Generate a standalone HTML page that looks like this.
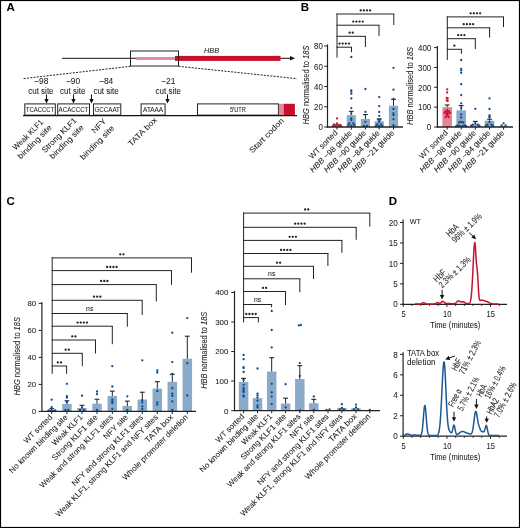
<!DOCTYPE html>
<html><head><meta charset="utf-8"><style>
html,body{margin:0;padding:0;background:#fff;}
body{width:520px;height:528px;overflow:hidden;}
svg{display:block;font-family:"Liberation Sans", sans-serif;will-change:transform;}
text{stroke:#222;stroke-width:0.06px;}
</style></head><body>
<svg width="520" height="528" viewBox="0 0 520 528">
<rect x="0" y="0" width="520" height="528" fill="#fff"/>
<text x="6.60" y="11.20" font-size="11.5" text-anchor="start" fill="#000" font-weight="bold" >A</text>
<text x="300.80" y="10.90" font-size="11.5" text-anchor="start" fill="#000" font-weight="bold" >B</text>
<text x="6.60" y="205.20" font-size="11.5" text-anchor="start" fill="#000" font-weight="bold" >C</text>
<text x="388.80" y="204.50" font-size="11.5" text-anchor="start" fill="#000" font-weight="bold" >D</text>
<line x1="62.00" y1="58.30" x2="291.00" y2="58.30" stroke="#111" stroke-width="1" />
<polygon points="290,56 295,58.3 290,60.6" fill="#111"/>
<rect x="136.00" y="57.00" width="40.00" height="3.00" fill="#e48a9b" stroke="none" stroke-width="1" />
<rect x="175.00" y="55.90" width="105.50" height="5.00" fill="#c8102e" stroke="none" stroke-width="1" />
<rect x="130.50" y="51.00" width="48.00" height="15.00" fill="none" stroke="#222" stroke-width="1" />
<text x="211.50" y="53.20" font-size="7.5" text-anchor="middle" fill="#222" font-style="italic" textLength="15.00" lengthAdjust="spacingAndGlyphs" >HBB</text>
<line x1="130.50" y1="66.30" x2="22.50" y2="78.70" stroke="#222" stroke-width="1" stroke-dasharray="2,1.3"/>
<line x1="178.50" y1="66.30" x2="297.00" y2="78.70" stroke="#222" stroke-width="1" stroke-dasharray="2,1.3"/>
<text x="41.20" y="84.00" font-size="8.7" text-anchor="middle" fill="#222" textLength="14.20" lengthAdjust="spacingAndGlyphs" >−98</text>
<text x="40.90" y="94.00" font-size="8.4" text-anchor="middle" fill="#222" textLength="25.30" lengthAdjust="spacingAndGlyphs" >cut site</text>
<line x1="46.50" y1="94.40" x2="46.50" y2="99.40" stroke="#111" stroke-width="1" />
<polygon points="44.30,98.90 48.70,98.90 46.50,103.50" fill="#111"/>
<text x="73.00" y="84.00" font-size="8.7" text-anchor="middle" fill="#222" textLength="14.20" lengthAdjust="spacingAndGlyphs" >−90</text>
<text x="72.70" y="94.00" font-size="8.4" text-anchor="middle" fill="#222" textLength="25.30" lengthAdjust="spacingAndGlyphs" >cut site</text>
<line x1="73.50" y1="94.40" x2="73.50" y2="99.40" stroke="#111" stroke-width="1" />
<polygon points="71.30,98.90 75.70,98.90 73.50,103.50" fill="#111"/>
<text x="106.10" y="84.00" font-size="8.7" text-anchor="middle" fill="#222" textLength="14.20" lengthAdjust="spacingAndGlyphs" >−84</text>
<text x="106.10" y="94.00" font-size="8.4" text-anchor="middle" fill="#222" textLength="25.30" lengthAdjust="spacingAndGlyphs" >cut site</text>
<line x1="91.50" y1="94.40" x2="91.50" y2="99.40" stroke="#111" stroke-width="1" />
<polygon points="89.30,98.90 93.70,98.90 91.50,103.50" fill="#111"/>
<text x="168.20" y="84.00" font-size="8.7" text-anchor="middle" fill="#222" textLength="14.20" lengthAdjust="spacingAndGlyphs" >−21</text>
<text x="168.20" y="94.00" font-size="8.4" text-anchor="middle" fill="#222" textLength="25.30" lengthAdjust="spacingAndGlyphs" >cut site</text>
<line x1="167.50" y1="94.40" x2="167.50" y2="99.40" stroke="#111" stroke-width="1" />
<polygon points="165.30,98.90 169.70,98.90 167.50,103.50" fill="#111"/>
<rect x="24.80" y="103.90" width="30.50" height="11.20" fill="#fff" stroke="#222" stroke-width="1" />
<text x="40.05" y="112.30" font-size="7" text-anchor="middle" fill="#222" textLength="28.50" lengthAdjust="spacingAndGlyphs" >TCACCCT</text>
<rect x="57.70" y="103.90" width="31.80" height="11.20" fill="#fff" stroke="#222" stroke-width="1" />
<text x="73.60" y="112.30" font-size="7" text-anchor="middle" fill="#222" textLength="30.00" lengthAdjust="spacingAndGlyphs" >ACACCCT</text>
<rect x="93.50" y="103.90" width="27.30" height="11.20" fill="#fff" stroke="#222" stroke-width="1" />
<text x="107.15" y="112.30" font-size="7" text-anchor="middle" fill="#222" textLength="25.50" lengthAdjust="spacingAndGlyphs" >GCCAAT</text>
<rect x="141.10" y="103.90" width="24.00" height="11.20" fill="#fff" stroke="#222" stroke-width="1" />
<text x="153.10" y="112.30" font-size="7" text-anchor="middle" fill="#222" textLength="20.00" lengthAdjust="spacingAndGlyphs" >ATAAA</text>
<rect x="197.50" y="103.90" width="80.90" height="11.20" fill="#fff" stroke="#222" stroke-width="1" />
<text x="237.95" y="112.00" font-size="7" text-anchor="middle" fill="#222" textLength="16.00" lengthAdjust="spacingAndGlyphs" >5′UTR</text>
<rect x="278.90" y="103.80" width="5.00" height="11.60" fill="#e48a9b" stroke="none" stroke-width="1" />
<rect x="283.80" y="103.80" width="11.10" height="11.60" fill="#c8102e" stroke="none" stroke-width="1" />
<line x1="23.00" y1="115.70" x2="297.00" y2="115.70" stroke="#111" stroke-width="1.2" />
<text x="29.84" y="136.64" font-size="8" text-anchor="middle" fill="#222" textLength="39.50" lengthAdjust="spacingAndGlyphs" transform="rotate(-45 29.84 136.64)" >Weak KLF1</text>
<text x="36.54" y="143.84" font-size="8" text-anchor="middle" fill="#222" textLength="44.50" lengthAdjust="spacingAndGlyphs" transform="rotate(-45 36.54 143.84)" >binding site</text>
<text x="61.04" y="137.14" font-size="8" text-anchor="middle" fill="#222" textLength="45.50" lengthAdjust="spacingAndGlyphs" transform="rotate(-45 61.04 137.14)" >Strong KLF1</text>
<text x="68.54" y="143.84" font-size="8" text-anchor="middle" fill="#222" textLength="44.50" lengthAdjust="spacingAndGlyphs" transform="rotate(-45 68.54 143.84)" >binding site</text>
<text x="100.74" y="127.74" font-size="8" text-anchor="middle" fill="#222" textLength="17.00" lengthAdjust="spacingAndGlyphs" transform="rotate(-45 100.74 127.74)" >NFY</text>
<text x="98.94" y="144.64" font-size="8" text-anchor="middle" fill="#222" textLength="44.50" lengthAdjust="spacingAndGlyphs" transform="rotate(-45 98.94 144.64)" >binding site</text>
<text x="144.24" y="133.74" font-size="8" text-anchor="middle" fill="#222" textLength="37.00" lengthAdjust="spacingAndGlyphs" transform="rotate(-45 144.24 133.74)" >TATA box</text>
<text x="268.54" y="137.44" font-size="8" text-anchor="middle" fill="#222" textLength="45.50" lengthAdjust="spacingAndGlyphs" transform="rotate(-45 268.54 137.44)" >Start codon</text>
<rect x="332.40" y="125.78" width="9.20" height="1.21" fill="#e38797" stroke="none" stroke-width="1" />
<rect x="346.70" y="115.15" width="9.20" height="11.85" fill="#8aaaca" stroke="none" stroke-width="1" />
<rect x="360.80" y="118.90" width="9.20" height="8.10" fill="#8aaaca" stroke="none" stroke-width="1" />
<rect x="374.60" y="121.23" width="9.20" height="5.77" fill="#8aaaca" stroke="none" stroke-width="1" />
<rect x="388.90" y="105.74" width="9.20" height="21.26" fill="#8aaaca" stroke="none" stroke-width="1" />
<line x1="337.00" y1="125.78" x2="337.00" y2="124.97" stroke="#222" stroke-width="1" />
<line x1="334.60" y1="124.97" x2="339.40" y2="124.97" stroke="#222" stroke-width="1.1" />
<line x1="351.30" y1="115.15" x2="351.30" y2="111.31" stroke="#222" stroke-width="1" />
<line x1="348.90" y1="111.31" x2="353.70" y2="111.31" stroke="#222" stroke-width="1.1" />
<line x1="365.40" y1="118.90" x2="365.40" y2="114.55" stroke="#222" stroke-width="1" />
<line x1="363.00" y1="114.55" x2="367.80" y2="114.55" stroke="#222" stroke-width="1.1" />
<line x1="379.20" y1="121.23" x2="379.20" y2="118.90" stroke="#222" stroke-width="1" />
<line x1="376.80" y1="118.90" x2="381.60" y2="118.90" stroke="#222" stroke-width="1.1" />
<line x1="393.50" y1="105.74" x2="393.50" y2="99.36" stroke="#222" stroke-width="1" />
<line x1="391.10" y1="99.36" x2="395.90" y2="99.36" stroke="#222" stroke-width="1.1" />
<circle cx="337.00" cy="118.40" r="1.15" fill="#cc1030"/>
<circle cx="334.00" cy="124.50" r="1.15" fill="#cc1030"/>
<circle cx="335.50" cy="125.60" r="1.15" fill="#cc1030"/>
<circle cx="338.50" cy="125.60" r="1.15" fill="#cc1030"/>
<circle cx="340.00" cy="124.80" r="1.15" fill="#cc1030"/>
<circle cx="337.00" cy="123.50" r="1.15" fill="#cc1030"/>
<circle cx="333.00" cy="125.90" r="1.15" fill="#cc1030"/>
<circle cx="341.00" cy="125.90" r="1.15" fill="#cc1030"/>
<circle cx="351.30" cy="57.00" r="1.15" fill="#0e4a8e"/>
<circle cx="351.30" cy="90.30" r="1.15" fill="#0e4a8e"/>
<circle cx="351.30" cy="91.60" r="1.15" fill="#0e4a8e"/>
<circle cx="351.30" cy="93.70" r="1.15" fill="#0e4a8e"/>
<circle cx="351.30" cy="98.40" r="1.15" fill="#0e4a8e"/>
<circle cx="351.30" cy="108.10" r="1.15" fill="#0e4a8e"/>
<circle cx="351.30" cy="113.30" r="1.15" fill="#0e4a8e"/>
<circle cx="351.30" cy="118.40" r="1.15" fill="#0e4a8e"/>
<circle cx="351.30" cy="120.00" r="1.15" fill="#0e4a8e"/>
<circle cx="349.30" cy="123.50" r="1.15" fill="#0e4a8e"/>
<circle cx="353.30" cy="123.50" r="1.15" fill="#0e4a8e"/>
<circle cx="348.30" cy="125.20" r="1.15" fill="#0e4a8e"/>
<circle cx="354.30" cy="125.20" r="1.15" fill="#0e4a8e"/>
<circle cx="351.30" cy="125.80" r="1.15" fill="#0e4a8e"/>
<circle cx="365.40" cy="89.00" r="1.15" fill="#0e4a8e"/>
<circle cx="365.40" cy="111.90" r="1.15" fill="#0e4a8e"/>
<circle cx="365.40" cy="121.80" r="1.15" fill="#0e4a8e"/>
<circle cx="363.90" cy="126.00" r="1.15" fill="#0e4a8e"/>
<circle cx="366.90" cy="126.00" r="1.15" fill="#0e4a8e"/>
<circle cx="379.20" cy="97.10" r="1.15" fill="#0e4a8e"/>
<circle cx="379.20" cy="106.10" r="1.15" fill="#0e4a8e"/>
<circle cx="379.20" cy="111.90" r="1.15" fill="#0e4a8e"/>
<circle cx="379.20" cy="115.80" r="1.15" fill="#0e4a8e"/>
<circle cx="378.20" cy="119.70" r="1.15" fill="#0e4a8e"/>
<circle cx="380.20" cy="119.70" r="1.15" fill="#0e4a8e"/>
<circle cx="379.20" cy="121.80" r="1.15" fill="#0e4a8e"/>
<circle cx="377.20" cy="124.30" r="1.15" fill="#0e4a8e"/>
<circle cx="381.20" cy="124.30" r="1.15" fill="#0e4a8e"/>
<circle cx="376.20" cy="126.00" r="1.15" fill="#0e4a8e"/>
<circle cx="382.20" cy="126.00" r="1.15" fill="#0e4a8e"/>
<circle cx="379.20" cy="126.00" r="1.15" fill="#0e4a8e"/>
<circle cx="393.50" cy="67.80" r="1.15" fill="#0e4a8e"/>
<circle cx="393.50" cy="89.70" r="1.15" fill="#0e4a8e"/>
<circle cx="393.50" cy="98.80" r="1.15" fill="#0e4a8e"/>
<circle cx="393.50" cy="109.00" r="1.15" fill="#0e4a8e"/>
<circle cx="393.50" cy="113.30" r="1.15" fill="#0e4a8e"/>
<circle cx="393.50" cy="115.00" r="1.15" fill="#0e4a8e"/>
<circle cx="393.50" cy="119.20" r="1.15" fill="#0e4a8e"/>
<circle cx="393.50" cy="125.20" r="1.15" fill="#0e4a8e"/>
<line x1="327.50" y1="44.50" x2="327.50" y2="127.60" stroke="#222" stroke-width="1.2" />
<line x1="326.90" y1="127.00" x2="403.00" y2="127.00" stroke="#222" stroke-width="1.3" />
<line x1="324.20" y1="127.00" x2="327.50" y2="127.00" stroke="#222" stroke-width="1" />
<text x="322.80" y="130.29" font-size="9.2" text-anchor="end" fill="#222" textLength="4.40" lengthAdjust="spacingAndGlyphs" >0</text>
<line x1="324.20" y1="106.75" x2="327.50" y2="106.75" stroke="#222" stroke-width="1" />
<text x="322.80" y="110.04" font-size="9.2" text-anchor="end" fill="#222" textLength="8.80" lengthAdjust="spacingAndGlyphs" >20</text>
<line x1="324.20" y1="86.50" x2="327.50" y2="86.50" stroke="#222" stroke-width="1" />
<text x="322.80" y="89.79" font-size="9.2" text-anchor="end" fill="#222" textLength="8.80" lengthAdjust="spacingAndGlyphs" >40</text>
<line x1="324.20" y1="66.25" x2="327.50" y2="66.25" stroke="#222" stroke-width="1" />
<text x="322.80" y="69.54" font-size="9.2" text-anchor="end" fill="#222" textLength="8.80" lengthAdjust="spacingAndGlyphs" >60</text>
<line x1="324.20" y1="46.00" x2="327.50" y2="46.00" stroke="#222" stroke-width="1" />
<text x="322.80" y="49.29" font-size="9.2" text-anchor="end" fill="#222" textLength="8.80" lengthAdjust="spacingAndGlyphs" >80</text>
<line x1="337.00" y1="127.00" x2="337.00" y2="129.60" stroke="#222" stroke-width="1" />
<line x1="351.30" y1="127.00" x2="351.30" y2="129.60" stroke="#222" stroke-width="1" />
<line x1="365.40" y1="127.00" x2="365.40" y2="129.60" stroke="#222" stroke-width="1" />
<line x1="379.20" y1="127.00" x2="379.20" y2="129.60" stroke="#222" stroke-width="1" />
<line x1="393.50" y1="127.00" x2="393.50" y2="129.60" stroke="#222" stroke-width="1" />
<line x1="336.50" y1="14.00" x2="394.30" y2="14.00" stroke="#222" stroke-width="1" />
<line x1="393.80" y1="14.00" x2="393.80" y2="25.00" stroke="#222" stroke-width="1" />
<circle cx="360.67" cy="10.40" r="1.15" fill="#222"/>
<circle cx="363.82" cy="10.40" r="1.15" fill="#222"/>
<circle cx="366.97" cy="10.40" r="1.15" fill="#222"/>
<circle cx="370.12" cy="10.40" r="1.15" fill="#222"/>
<line x1="336.50" y1="25.20" x2="379.50" y2="25.20" stroke="#222" stroke-width="1" />
<line x1="379.00" y1="25.20" x2="379.00" y2="36.00" stroke="#222" stroke-width="1" />
<circle cx="353.27" cy="21.60" r="1.15" fill="#222"/>
<circle cx="356.42" cy="21.60" r="1.15" fill="#222"/>
<circle cx="359.57" cy="21.60" r="1.15" fill="#222"/>
<circle cx="362.72" cy="21.60" r="1.15" fill="#222"/>
<line x1="336.50" y1="36.30" x2="365.90" y2="36.30" stroke="#222" stroke-width="1" />
<line x1="365.40" y1="36.30" x2="365.40" y2="47.00" stroke="#222" stroke-width="1" />
<circle cx="349.62" cy="32.70" r="1.15" fill="#222"/>
<circle cx="352.77" cy="32.70" r="1.15" fill="#222"/>
<line x1="336.50" y1="47.20" x2="352.00" y2="47.20" stroke="#222" stroke-width="1" />
<line x1="351.50" y1="47.20" x2="351.50" y2="52.20" stroke="#222" stroke-width="1" />
<circle cx="339.52" cy="43.60" r="1.15" fill="#222"/>
<circle cx="342.67" cy="43.60" r="1.15" fill="#222"/>
<circle cx="345.82" cy="43.60" r="1.15" fill="#222"/>
<circle cx="348.97" cy="43.60" r="1.15" fill="#222"/>
<line x1="337.00" y1="13.50" x2="337.00" y2="57.70" stroke="#222" stroke-width="1" />
<text x="338.20" y="133.40" font-size="8" text-anchor="end" fill="#222" transform="rotate(-45 338.20 133.40)" textLength="37.00" lengthAdjust="spacingAndGlyphs">WT sorted</text>
<text x="352.50" y="133.40" font-size="8" text-anchor="end" fill="#222" transform="rotate(-45 352.50 133.40)" textLength="56.00" lengthAdjust="spacingAndGlyphs"><tspan font-style="italic">HBB</tspan> −98 guide</text>
<text x="366.60" y="133.40" font-size="8" text-anchor="end" fill="#222" transform="rotate(-45 366.60 133.40)" textLength="56.00" lengthAdjust="spacingAndGlyphs"><tspan font-style="italic">HBB</tspan> −90 guide</text>
<text x="380.40" y="133.40" font-size="8" text-anchor="end" fill="#222" transform="rotate(-45 380.40 133.40)" textLength="56.00" lengthAdjust="spacingAndGlyphs"><tspan font-style="italic">HBB</tspan> −84 guide</text>
<text x="394.70" y="133.40" font-size="8" text-anchor="end" fill="#222" transform="rotate(-45 394.70 133.40)" textLength="56.00" lengthAdjust="spacingAndGlyphs"><tspan font-style="italic">HBB</tspan> −21 guide</text>
<text x="308.60" y="85.00" font-size="8.8" text-anchor="middle" fill="#222" transform="rotate(-90 308.60 85.00)" textLength="78.80" lengthAdjust="spacingAndGlyphs"><tspan font-style="italic">HBG</tspan> normalised to <tspan font-style="italic">18S</tspan></text>
<rect x="442.40" y="107.15" width="9.60" height="19.85" fill="#e38797" stroke="none" stroke-width="1" />
<rect x="456.40" y="110.33" width="9.60" height="16.67" fill="#8aaaca" stroke="none" stroke-width="1" />
<rect x="470.50" y="124.62" width="9.60" height="2.38" fill="#8aaaca" stroke="none" stroke-width="1" />
<rect x="484.70" y="120.65" width="9.60" height="6.35" fill="#8aaaca" stroke="none" stroke-width="1" />
<rect x="498.80" y="126.21" width="9.60" height="0.79" fill="#8aaaca" stroke="none" stroke-width="1" />
<line x1="447.20" y1="107.15" x2="447.20" y2="104.97" stroke="#222" stroke-width="1" />
<line x1="444.80" y1="104.97" x2="449.60" y2="104.97" stroke="#222" stroke-width="1.1" />
<line x1="461.20" y1="110.33" x2="461.20" y2="105.56" stroke="#222" stroke-width="1" />
<line x1="458.80" y1="105.56" x2="463.60" y2="105.56" stroke="#222" stroke-width="1.1" />
<line x1="475.30" y1="124.62" x2="475.30" y2="121.44" stroke="#222" stroke-width="1" />
<line x1="472.90" y1="121.44" x2="477.70" y2="121.44" stroke="#222" stroke-width="1.1" />
<line x1="489.50" y1="120.65" x2="489.50" y2="119.26" stroke="#222" stroke-width="1" />
<line x1="487.10" y1="119.26" x2="491.90" y2="119.26" stroke="#222" stroke-width="1.1" />
<circle cx="447.20" cy="89.30" r="1.15" fill="#cc1030"/>
<circle cx="447.20" cy="92.50" r="1.15" fill="#cc1030"/>
<circle cx="446.70" cy="97.80" r="1.15" fill="#cc1030"/>
<circle cx="447.70" cy="98.40" r="1.15" fill="#cc1030"/>
<circle cx="446.70" cy="100.30" r="1.15" fill="#cc1030"/>
<circle cx="447.70" cy="101.00" r="1.15" fill="#cc1030"/>
<circle cx="447.20" cy="109.80" r="1.15" fill="#cc1030"/>
<circle cx="445.40" cy="111.50" r="1.15" fill="#cc1030"/>
<circle cx="449.00" cy="111.50" r="1.15" fill="#cc1030"/>
<circle cx="444.40" cy="112.80" r="1.15" fill="#cc1030"/>
<circle cx="450.00" cy="112.80" r="1.15" fill="#cc1030"/>
<circle cx="447.20" cy="112.00" r="1.15" fill="#cc1030"/>
<circle cx="447.20" cy="115.50" r="1.15" fill="#cc1030"/>
<circle cx="445.70" cy="117.00" r="1.15" fill="#cc1030"/>
<circle cx="448.70" cy="117.00" r="1.15" fill="#cc1030"/>
<circle cx="446.50" cy="114.00" r="1.15" fill="#cc1030"/>
<circle cx="447.90" cy="114.00" r="1.15" fill="#cc1030"/>
<circle cx="461.20" cy="60.00" r="1.15" fill="#0e4a8e"/>
<circle cx="461.20" cy="68.80" r="1.15" fill="#0e4a8e"/>
<circle cx="461.20" cy="70.40" r="1.15" fill="#0e4a8e"/>
<circle cx="461.20" cy="72.80" r="1.15" fill="#0e4a8e"/>
<circle cx="461.20" cy="84.20" r="1.15" fill="#0e4a8e"/>
<circle cx="461.20" cy="95.10" r="1.15" fill="#0e4a8e"/>
<circle cx="461.20" cy="103.30" r="1.15" fill="#0e4a8e"/>
<circle cx="461.20" cy="108.00" r="1.15" fill="#0e4a8e"/>
<circle cx="461.20" cy="114.40" r="1.15" fill="#0e4a8e"/>
<circle cx="461.20" cy="117.40" r="1.15" fill="#0e4a8e"/>
<circle cx="459.20" cy="122.50" r="1.15" fill="#0e4a8e"/>
<circle cx="463.20" cy="122.50" r="1.15" fill="#0e4a8e"/>
<circle cx="461.20" cy="122.00" r="1.15" fill="#0e4a8e"/>
<circle cx="457.70" cy="125.50" r="1.15" fill="#0e4a8e"/>
<circle cx="464.70" cy="125.50" r="1.15" fill="#0e4a8e"/>
<circle cx="459.70" cy="125.80" r="1.15" fill="#0e4a8e"/>
<circle cx="462.70" cy="125.80" r="1.15" fill="#0e4a8e"/>
<circle cx="456.20" cy="126.20" r="1.15" fill="#0e4a8e"/>
<circle cx="466.20" cy="126.20" r="1.15" fill="#0e4a8e"/>
<circle cx="475.30" cy="108.80" r="1.15" fill="#0e4a8e"/>
<circle cx="472.80" cy="124.70" r="1.15" fill="#0e4a8e"/>
<circle cx="477.80" cy="124.70" r="1.15" fill="#0e4a8e"/>
<circle cx="475.30" cy="123.50" r="1.15" fill="#0e4a8e"/>
<circle cx="471.30" cy="125.70" r="1.15" fill="#0e4a8e"/>
<circle cx="479.30" cy="125.70" r="1.15" fill="#0e4a8e"/>
<circle cx="489.50" cy="98.40" r="1.15" fill="#0e4a8e"/>
<circle cx="489.50" cy="109.00" r="1.15" fill="#0e4a8e"/>
<circle cx="489.50" cy="115.50" r="1.15" fill="#0e4a8e"/>
<circle cx="489.50" cy="116.50" r="1.15" fill="#0e4a8e"/>
<circle cx="489.50" cy="117.60" r="1.15" fill="#0e4a8e"/>
<circle cx="489.50" cy="121.90" r="1.15" fill="#0e4a8e"/>
<circle cx="487.50" cy="124.70" r="1.15" fill="#0e4a8e"/>
<circle cx="491.50" cy="124.70" r="1.15" fill="#0e4a8e"/>
<circle cx="486.00" cy="125.70" r="1.15" fill="#0e4a8e"/>
<circle cx="493.00" cy="125.70" r="1.15" fill="#0e4a8e"/>
<circle cx="501.60" cy="125.40" r="1.15" fill="#0e4a8e"/>
<circle cx="505.60" cy="125.40" r="1.15" fill="#0e4a8e"/>
<circle cx="503.60" cy="123.30" r="1.15" fill="#0e4a8e"/>
<line x1="437.40" y1="46.10" x2="437.40" y2="127.60" stroke="#222" stroke-width="1.2" />
<line x1="436.80" y1="127.00" x2="513.00" y2="127.00" stroke="#222" stroke-width="1.3" />
<line x1="434.10" y1="127.00" x2="437.40" y2="127.00" stroke="#222" stroke-width="1" />
<text x="431.20" y="130.22" font-size="9.0" text-anchor="end" fill="#222" textLength="4.40" lengthAdjust="spacingAndGlyphs" >0</text>
<line x1="434.10" y1="107.15" x2="437.40" y2="107.15" stroke="#222" stroke-width="1" />
<text x="431.20" y="110.37" font-size="9.0" text-anchor="end" fill="#222" textLength="13.20" lengthAdjust="spacingAndGlyphs" >100</text>
<line x1="434.10" y1="87.30" x2="437.40" y2="87.30" stroke="#222" stroke-width="1" />
<text x="431.20" y="90.52" font-size="9.0" text-anchor="end" fill="#222" textLength="13.20" lengthAdjust="spacingAndGlyphs" >200</text>
<line x1="434.10" y1="67.45" x2="437.40" y2="67.45" stroke="#222" stroke-width="1" />
<text x="431.20" y="70.67" font-size="9.0" text-anchor="end" fill="#222" textLength="13.20" lengthAdjust="spacingAndGlyphs" >300</text>
<line x1="434.10" y1="47.60" x2="437.40" y2="47.60" stroke="#222" stroke-width="1" />
<text x="431.20" y="50.82" font-size="9.0" text-anchor="end" fill="#222" textLength="13.20" lengthAdjust="spacingAndGlyphs" >400</text>
<line x1="447.20" y1="127.00" x2="447.20" y2="129.60" stroke="#222" stroke-width="1" />
<line x1="461.20" y1="127.00" x2="461.20" y2="129.60" stroke="#222" stroke-width="1" />
<line x1="475.30" y1="127.00" x2="475.30" y2="129.60" stroke="#222" stroke-width="1" />
<line x1="489.50" y1="127.00" x2="489.50" y2="129.60" stroke="#222" stroke-width="1" />
<line x1="503.60" y1="127.00" x2="503.60" y2="129.60" stroke="#222" stroke-width="1" />
<line x1="446.80" y1="16.90" x2="504.00" y2="16.90" stroke="#222" stroke-width="1" />
<line x1="503.50" y1="16.90" x2="503.50" y2="27.00" stroke="#222" stroke-width="1" />
<circle cx="470.67" cy="13.30" r="1.15" fill="#222"/>
<circle cx="473.82" cy="13.30" r="1.15" fill="#222"/>
<circle cx="476.97" cy="13.30" r="1.15" fill="#222"/>
<circle cx="480.12" cy="13.30" r="1.15" fill="#222"/>
<line x1="446.80" y1="27.80" x2="490.10" y2="27.80" stroke="#222" stroke-width="1" />
<line x1="489.60" y1="27.80" x2="489.60" y2="37.60" stroke="#222" stroke-width="1" />
<circle cx="463.73" cy="24.20" r="1.15" fill="#222"/>
<circle cx="466.88" cy="24.20" r="1.15" fill="#222"/>
<circle cx="470.03" cy="24.20" r="1.15" fill="#222"/>
<circle cx="473.18" cy="24.20" r="1.15" fill="#222"/>
<line x1="446.80" y1="38.70" x2="475.80" y2="38.70" stroke="#222" stroke-width="1" />
<line x1="475.30" y1="38.70" x2="475.30" y2="49.00" stroke="#222" stroke-width="1" />
<circle cx="458.15" cy="35.10" r="1.15" fill="#222"/>
<circle cx="461.30" cy="35.10" r="1.15" fill="#222"/>
<circle cx="464.45" cy="35.10" r="1.15" fill="#222"/>
<line x1="446.80" y1="49.30" x2="461.90" y2="49.30" stroke="#222" stroke-width="1" />
<line x1="461.40" y1="49.30" x2="461.40" y2="53.80" stroke="#222" stroke-width="1" />
<circle cx="454.35" cy="45.70" r="1.15" fill="#222"/>
<line x1="447.30" y1="16.40" x2="447.30" y2="60.00" stroke="#222" stroke-width="1" />
<text x="448.40" y="133.40" font-size="8" text-anchor="end" fill="#222" transform="rotate(-45 448.40 133.40)" textLength="37.00" lengthAdjust="spacingAndGlyphs">WT sorted</text>
<text x="462.40" y="133.40" font-size="8" text-anchor="end" fill="#222" transform="rotate(-45 462.40 133.40)" textLength="56.00" lengthAdjust="spacingAndGlyphs"><tspan font-style="italic">HBB</tspan> −98 guide</text>
<text x="476.50" y="133.40" font-size="8" text-anchor="end" fill="#222" transform="rotate(-45 476.50 133.40)" textLength="56.00" lengthAdjust="spacingAndGlyphs"><tspan font-style="italic">HBB</tspan> −90 guide</text>
<text x="490.70" y="133.40" font-size="8" text-anchor="end" fill="#222" transform="rotate(-45 490.70 133.40)" textLength="56.00" lengthAdjust="spacingAndGlyphs"><tspan font-style="italic">HBB</tspan> −84 guide</text>
<text x="504.80" y="133.40" font-size="8" text-anchor="end" fill="#222" transform="rotate(-45 504.80 133.40)" textLength="56.00" lengthAdjust="spacingAndGlyphs"><tspan font-style="italic">HBB</tspan> −21 guide</text>
<text x="412.70" y="85.90" font-size="8.8" text-anchor="middle" fill="#222" transform="rotate(-90 412.70 85.90)" textLength="78.00" lengthAdjust="spacingAndGlyphs"><tspan font-style="italic">HBB</tspan> normalised to <tspan font-style="italic">18S</tspan></text>
<rect x="46.95" y="410.05" width="9.50" height="1.35" fill="#8aaaca" stroke="none" stroke-width="1" />
<rect x="62.15" y="403.97" width="9.50" height="7.43" fill="#8aaaca" stroke="none" stroke-width="1" />
<rect x="77.25" y="408.02" width="9.50" height="3.38" fill="#8aaaca" stroke="none" stroke-width="1" />
<rect x="92.25" y="403.70" width="9.50" height="7.70" fill="#8aaaca" stroke="none" stroke-width="1" />
<rect x="107.55" y="396.01" width="9.50" height="15.39" fill="#8aaaca" stroke="none" stroke-width="1" />
<rect x="122.55" y="406.00" width="9.50" height="5.40" fill="#8aaaca" stroke="none" stroke-width="1" />
<rect x="137.55" y="399.52" width="9.50" height="11.88" fill="#8aaaca" stroke="none" stroke-width="1" />
<rect x="152.55" y="388.58" width="9.50" height="22.82" fill="#8aaaca" stroke="none" stroke-width="1" />
<rect x="167.55" y="381.83" width="9.50" height="29.57" fill="#8aaaca" stroke="none" stroke-width="1" />
<rect x="182.55" y="358.75" width="9.50" height="52.65" fill="#8aaaca" stroke="none" stroke-width="1" />
<line x1="51.70" y1="410.05" x2="51.70" y2="408.70" stroke="#222" stroke-width="1" />
<line x1="49.30" y1="408.70" x2="54.10" y2="408.70" stroke="#222" stroke-width="1.1" />
<line x1="66.90" y1="403.97" x2="66.90" y2="400.87" stroke="#222" stroke-width="1" />
<line x1="64.50" y1="400.87" x2="69.30" y2="400.87" stroke="#222" stroke-width="1.1" />
<line x1="82.00" y1="408.02" x2="82.00" y2="405.32" stroke="#222" stroke-width="1" />
<line x1="79.60" y1="405.32" x2="84.40" y2="405.32" stroke="#222" stroke-width="1.1" />
<line x1="97.00" y1="403.70" x2="97.00" y2="399.25" stroke="#222" stroke-width="1" />
<line x1="94.60" y1="399.25" x2="99.40" y2="399.25" stroke="#222" stroke-width="1.1" />
<line x1="112.30" y1="396.01" x2="112.30" y2="391.15" stroke="#222" stroke-width="1" />
<line x1="109.90" y1="391.15" x2="114.70" y2="391.15" stroke="#222" stroke-width="1.1" />
<line x1="127.30" y1="406.00" x2="127.30" y2="401.14" stroke="#222" stroke-width="1" />
<line x1="124.90" y1="401.14" x2="129.70" y2="401.14" stroke="#222" stroke-width="1.1" />
<line x1="142.30" y1="399.52" x2="142.30" y2="392.23" stroke="#222" stroke-width="1" />
<line x1="139.90" y1="392.23" x2="144.70" y2="392.23" stroke="#222" stroke-width="1.1" />
<line x1="157.30" y1="388.58" x2="157.30" y2="381.70" stroke="#222" stroke-width="1" />
<line x1="154.90" y1="381.70" x2="159.70" y2="381.70" stroke="#222" stroke-width="1.1" />
<line x1="172.30" y1="381.83" x2="172.30" y2="374.27" stroke="#222" stroke-width="1" />
<line x1="169.90" y1="374.27" x2="174.70" y2="374.27" stroke="#222" stroke-width="1.1" />
<line x1="187.30" y1="358.75" x2="187.30" y2="336.20" stroke="#222" stroke-width="1" />
<line x1="184.90" y1="336.20" x2="189.70" y2="336.20" stroke="#222" stroke-width="1.1" />
<circle cx="51.70" cy="399.70" r="1.15" fill="#0e4a8e"/>
<circle cx="51.70" cy="407.20" r="1.15" fill="#0e4a8e"/>
<circle cx="48.70" cy="410.50" r="1.15" fill="#0e4a8e"/>
<circle cx="50.70" cy="410.80" r="1.15" fill="#0e4a8e"/>
<circle cx="53.20" cy="410.80" r="1.15" fill="#0e4a8e"/>
<circle cx="55.20" cy="410.50" r="1.15" fill="#0e4a8e"/>
<circle cx="66.90" cy="383.80" r="1.15" fill="#0e4a8e"/>
<circle cx="66.90" cy="396.20" r="1.15" fill="#0e4a8e"/>
<circle cx="66.90" cy="397.70" r="1.15" fill="#0e4a8e"/>
<circle cx="66.90" cy="401.20" r="1.15" fill="#0e4a8e"/>
<circle cx="66.90" cy="402.30" r="1.15" fill="#0e4a8e"/>
<circle cx="65.40" cy="410.00" r="1.15" fill="#0e4a8e"/>
<circle cx="68.40" cy="410.00" r="1.15" fill="#0e4a8e"/>
<circle cx="82.00" cy="395.70" r="1.15" fill="#0e4a8e"/>
<circle cx="82.00" cy="407.70" r="1.15" fill="#0e4a8e"/>
<circle cx="80.00" cy="410.00" r="1.15" fill="#0e4a8e"/>
<circle cx="84.00" cy="410.00" r="1.15" fill="#0e4a8e"/>
<circle cx="97.00" cy="391.50" r="1.15" fill="#0e4a8e"/>
<circle cx="97.00" cy="394.20" r="1.15" fill="#0e4a8e"/>
<circle cx="97.00" cy="410.00" r="1.15" fill="#0e4a8e"/>
<circle cx="112.30" cy="366.20" r="1.15" fill="#0e4a8e"/>
<circle cx="112.30" cy="386.50" r="1.15" fill="#0e4a8e"/>
<circle cx="112.30" cy="399.70" r="1.15" fill="#0e4a8e"/>
<circle cx="112.30" cy="401.50" r="1.15" fill="#0e4a8e"/>
<circle cx="112.30" cy="403.00" r="1.15" fill="#0e4a8e"/>
<circle cx="112.30" cy="408.80" r="1.15" fill="#0e4a8e"/>
<circle cx="127.30" cy="396.30" r="1.15" fill="#0e4a8e"/>
<circle cx="127.30" cy="410.00" r="1.15" fill="#0e4a8e"/>
<circle cx="142.30" cy="360.30" r="1.15" fill="#0e4a8e"/>
<circle cx="142.30" cy="400.20" r="1.15" fill="#0e4a8e"/>
<circle cx="142.30" cy="402.40" r="1.15" fill="#0e4a8e"/>
<circle cx="142.30" cy="406.30" r="1.15" fill="#0e4a8e"/>
<circle cx="142.30" cy="409.00" r="1.15" fill="#0e4a8e"/>
<circle cx="157.30" cy="370.40" r="1.15" fill="#0e4a8e"/>
<circle cx="157.30" cy="372.50" r="1.15" fill="#0e4a8e"/>
<circle cx="157.30" cy="391.00" r="1.15" fill="#0e4a8e"/>
<circle cx="157.30" cy="402.40" r="1.15" fill="#0e4a8e"/>
<circle cx="157.30" cy="404.60" r="1.15" fill="#0e4a8e"/>
<circle cx="172.30" cy="332.70" r="1.15" fill="#0e4a8e"/>
<circle cx="172.30" cy="362.10" r="1.15" fill="#0e4a8e"/>
<circle cx="172.30" cy="374.00" r="1.15" fill="#0e4a8e"/>
<circle cx="172.30" cy="388.20" r="1.15" fill="#0e4a8e"/>
<circle cx="172.30" cy="393.70" r="1.15" fill="#0e4a8e"/>
<circle cx="172.30" cy="395.90" r="1.15" fill="#0e4a8e"/>
<circle cx="172.30" cy="401.30" r="1.15" fill="#0e4a8e"/>
<circle cx="172.30" cy="410.00" r="1.15" fill="#0e4a8e"/>
<circle cx="187.30" cy="318.10" r="1.15" fill="#0e4a8e"/>
<circle cx="187.30" cy="363.20" r="1.15" fill="#0e4a8e"/>
<circle cx="187.30" cy="395.40" r="1.15" fill="#0e4a8e"/>
<line x1="41.90" y1="301.90" x2="41.90" y2="412.00" stroke="#222" stroke-width="1.2" />
<line x1="41.30" y1="411.40" x2="196.00" y2="411.40" stroke="#222" stroke-width="1.3" />
<line x1="38.60" y1="411.40" x2="41.90" y2="411.40" stroke="#222" stroke-width="1" />
<text x="36.00" y="414.30" font-size="8.1" text-anchor="end" fill="#222" textLength="4.30" lengthAdjust="spacingAndGlyphs" >0</text>
<line x1="38.60" y1="384.40" x2="41.90" y2="384.40" stroke="#222" stroke-width="1" />
<text x="36.00" y="387.30" font-size="8.1" text-anchor="end" fill="#222" textLength="8.60" lengthAdjust="spacingAndGlyphs" >20</text>
<line x1="38.60" y1="357.40" x2="41.90" y2="357.40" stroke="#222" stroke-width="1" />
<text x="36.00" y="360.30" font-size="8.1" text-anchor="end" fill="#222" textLength="8.60" lengthAdjust="spacingAndGlyphs" >40</text>
<line x1="38.60" y1="330.40" x2="41.90" y2="330.40" stroke="#222" stroke-width="1" />
<text x="36.00" y="333.30" font-size="8.1" text-anchor="end" fill="#222" textLength="8.60" lengthAdjust="spacingAndGlyphs" >60</text>
<line x1="38.60" y1="303.40" x2="41.90" y2="303.40" stroke="#222" stroke-width="1" />
<text x="36.00" y="306.30" font-size="8.1" text-anchor="end" fill="#222" textLength="8.60" lengthAdjust="spacingAndGlyphs" >80</text>
<line x1="51.70" y1="411.40" x2="51.70" y2="414.00" stroke="#222" stroke-width="1" />
<line x1="66.90" y1="411.40" x2="66.90" y2="414.00" stroke="#222" stroke-width="1" />
<line x1="82.00" y1="411.40" x2="82.00" y2="414.00" stroke="#222" stroke-width="1" />
<line x1="97.00" y1="411.40" x2="97.00" y2="414.00" stroke="#222" stroke-width="1" />
<line x1="112.30" y1="411.40" x2="112.30" y2="414.00" stroke="#222" stroke-width="1" />
<line x1="127.30" y1="411.40" x2="127.30" y2="414.00" stroke="#222" stroke-width="1" />
<line x1="142.30" y1="411.40" x2="142.30" y2="414.00" stroke="#222" stroke-width="1" />
<line x1="157.30" y1="411.40" x2="157.30" y2="414.00" stroke="#222" stroke-width="1" />
<line x1="172.30" y1="411.40" x2="172.30" y2="414.00" stroke="#222" stroke-width="1" />
<line x1="187.30" y1="411.40" x2="187.30" y2="414.00" stroke="#222" stroke-width="1" />
<line x1="51.70" y1="257.90" x2="192.00" y2="257.90" stroke="#222" stroke-width="1" />
<line x1="191.50" y1="257.90" x2="191.50" y2="272.70" stroke="#222" stroke-width="1" />
<circle cx="120.27" cy="254.30" r="1.15" fill="#222"/>
<circle cx="123.42" cy="254.30" r="1.15" fill="#222"/>
<line x1="51.70" y1="270.60" x2="172.00" y2="270.60" stroke="#222" stroke-width="1" />
<line x1="171.50" y1="270.60" x2="171.50" y2="284.80" stroke="#222" stroke-width="1" />
<circle cx="107.12" cy="267.00" r="1.15" fill="#222"/>
<circle cx="110.28" cy="267.00" r="1.15" fill="#222"/>
<circle cx="113.42" cy="267.00" r="1.15" fill="#222"/>
<circle cx="116.58" cy="267.00" r="1.15" fill="#222"/>
<line x1="51.70" y1="284.60" x2="156.80" y2="284.60" stroke="#222" stroke-width="1" />
<line x1="156.30" y1="284.60" x2="156.30" y2="301.50" stroke="#222" stroke-width="1" />
<circle cx="101.10" cy="281.00" r="1.15" fill="#222"/>
<circle cx="104.25" cy="281.00" r="1.15" fill="#222"/>
<circle cx="107.40" cy="281.00" r="1.15" fill="#222"/>
<line x1="51.70" y1="300.30" x2="142.70" y2="300.30" stroke="#222" stroke-width="1" />
<line x1="142.20" y1="300.30" x2="142.20" y2="315.00" stroke="#222" stroke-width="1" />
<circle cx="94.05" cy="296.70" r="1.15" fill="#222"/>
<circle cx="97.20" cy="296.70" r="1.15" fill="#222"/>
<circle cx="100.35" cy="296.70" r="1.15" fill="#222"/>
<line x1="51.70" y1="313.50" x2="127.80" y2="313.50" stroke="#222" stroke-width="1" />
<line x1="127.30" y1="313.50" x2="127.30" y2="326.70" stroke="#222" stroke-width="1" />
<text x="89.75" y="310.90" font-size="7" text-anchor="middle" fill="#222" textLength="7.30" lengthAdjust="spacingAndGlyphs" >ns</text>
<line x1="51.70" y1="326.20" x2="112.80" y2="326.20" stroke="#222" stroke-width="1" />
<line x1="112.30" y1="326.20" x2="112.30" y2="344.20" stroke="#222" stroke-width="1" />
<circle cx="77.53" cy="322.60" r="1.15" fill="#222"/>
<circle cx="80.68" cy="322.60" r="1.15" fill="#222"/>
<circle cx="83.83" cy="322.60" r="1.15" fill="#222"/>
<circle cx="86.98" cy="322.60" r="1.15" fill="#222"/>
<line x1="51.70" y1="340.00" x2="96.00" y2="340.00" stroke="#222" stroke-width="1" />
<line x1="95.50" y1="340.00" x2="95.50" y2="353.50" stroke="#222" stroke-width="1" />
<circle cx="72.27" cy="336.40" r="1.15" fill="#222"/>
<circle cx="75.42" cy="336.40" r="1.15" fill="#222"/>
<line x1="51.70" y1="353.30" x2="82.80" y2="353.30" stroke="#222" stroke-width="1" />
<line x1="82.30" y1="353.30" x2="82.30" y2="366.20" stroke="#222" stroke-width="1" />
<circle cx="65.67" cy="349.70" r="1.15" fill="#222"/>
<circle cx="68.83" cy="349.70" r="1.15" fill="#222"/>
<line x1="51.70" y1="366.00" x2="67.10" y2="366.00" stroke="#222" stroke-width="1" />
<line x1="66.60" y1="366.00" x2="66.60" y2="373.80" stroke="#222" stroke-width="1" />
<circle cx="57.82" cy="362.40" r="1.15" fill="#222"/>
<circle cx="60.97" cy="362.40" r="1.15" fill="#222"/>
<line x1="52.20" y1="257.40" x2="52.20" y2="373.80" stroke="#222" stroke-width="1" />
<text x="52.90" y="417.80" font-size="8" text-anchor="end" fill="#222" transform="rotate(-45 52.90 417.80)" textLength="37.00" lengthAdjust="spacingAndGlyphs">WT sorted</text>
<text x="68.10" y="417.80" font-size="8" text-anchor="end" fill="#222" transform="rotate(-45 68.10 417.80)" textLength="79.00" lengthAdjust="spacingAndGlyphs">No known binding site</text>
<text x="83.20" y="417.80" font-size="8" text-anchor="end" fill="#222" transform="rotate(-45 83.20 417.80)" textLength="40.00" lengthAdjust="spacingAndGlyphs">Weak KLF1</text>
<text x="98.20" y="417.80" font-size="8" text-anchor="end" fill="#222" transform="rotate(-45 98.20 417.80)" textLength="61.00" lengthAdjust="spacingAndGlyphs">Strong KLF1 site</text>
<text x="113.50" y="417.80" font-size="8" text-anchor="end" fill="#222" transform="rotate(-45 113.50 417.80)" textLength="100.00" lengthAdjust="spacingAndGlyphs">Weak and strong KLF1 sites</text>
<text x="128.50" y="417.80" font-size="8" text-anchor="end" fill="#222" transform="rotate(-45 128.50 417.80)" textLength="31.00" lengthAdjust="spacingAndGlyphs">NFY site</text>
<text x="143.50" y="417.80" font-size="8" text-anchor="end" fill="#222" transform="rotate(-45 143.50 417.80)" textLength="97.00" lengthAdjust="spacingAndGlyphs">NFY and strong KLF1 sites</text>
<text x="158.50" y="417.80" font-size="8" text-anchor="end" fill="#222" transform="rotate(-45 158.50 417.80)" textLength="141.00" lengthAdjust="spacingAndGlyphs">Weak KLF1, strong KLF1 and NFY sites</text>
<text x="173.50" y="417.80" font-size="8" text-anchor="end" fill="#222" transform="rotate(-45 173.50 417.80)" textLength="36.00" lengthAdjust="spacingAndGlyphs">TATA box</text>
<text x="188.50" y="417.80" font-size="8" text-anchor="end" fill="#222" transform="rotate(-45 188.50 417.80)" textLength="89.00" lengthAdjust="spacingAndGlyphs">Whole promoter deletion</text>
<text x="20.50" y="356.30" font-size="8.8" text-anchor="middle" fill="#222" transform="rotate(-90 20.50 356.30)" textLength="78.40" lengthAdjust="spacingAndGlyphs"><tspan font-style="italic">HBG</tspan> normalised to <tspan font-style="italic">18S</tspan></text>
<rect x="238.85" y="381.94" width="9.50" height="28.66" fill="#8aaaca" stroke="none" stroke-width="1" />
<rect x="252.75" y="398.19" width="9.50" height="12.41" fill="#8aaaca" stroke="none" stroke-width="1" />
<rect x="266.95" y="371.59" width="9.50" height="39.01" fill="#8aaaca" stroke="none" stroke-width="1" />
<rect x="280.85" y="403.51" width="9.50" height="7.09" fill="#8aaaca" stroke="none" stroke-width="1" />
<rect x="295.05" y="378.98" width="9.50" height="31.62" fill="#8aaaca" stroke="none" stroke-width="1" />
<rect x="309.05" y="403.21" width="9.50" height="7.39" fill="#8aaaca" stroke="none" stroke-width="1" />
<rect x="323.25" y="410.30" width="9.50" height="0.30" fill="#8aaaca" stroke="none" stroke-width="1" />
<rect x="337.15" y="407.94" width="9.50" height="2.66" fill="#8aaaca" stroke="none" stroke-width="1" />
<rect x="351.25" y="408.24" width="9.50" height="2.36" fill="#8aaaca" stroke="none" stroke-width="1" />
<rect x="365.05" y="410.45" width="9.50" height="0.15" fill="#8aaaca" stroke="none" stroke-width="1" />
<line x1="243.60" y1="381.94" x2="243.60" y2="378.39" stroke="#222" stroke-width="1" />
<line x1="241.20" y1="378.39" x2="246.00" y2="378.39" stroke="#222" stroke-width="1.1" />
<line x1="271.70" y1="371.59" x2="271.70" y2="357.71" stroke="#222" stroke-width="1" />
<line x1="269.30" y1="357.71" x2="274.10" y2="357.71" stroke="#222" stroke-width="1.1" />
<line x1="285.60" y1="403.51" x2="285.60" y2="398.19" stroke="#222" stroke-width="1" />
<line x1="283.20" y1="398.19" x2="288.00" y2="398.19" stroke="#222" stroke-width="1.1" />
<line x1="299.80" y1="378.98" x2="299.80" y2="365.68" stroke="#222" stroke-width="1" />
<line x1="297.40" y1="365.68" x2="302.20" y2="365.68" stroke="#222" stroke-width="1.1" />
<line x1="313.80" y1="403.21" x2="313.80" y2="399.37" stroke="#222" stroke-width="1" />
<line x1="311.40" y1="399.37" x2="316.20" y2="399.37" stroke="#222" stroke-width="1.1" />
<circle cx="243.60" cy="354.90" r="1.15" fill="#0e4a8e"/>
<circle cx="243.60" cy="359.20" r="1.15" fill="#0e4a8e"/>
<circle cx="243.60" cy="367.10" r="1.15" fill="#0e4a8e"/>
<circle cx="243.60" cy="368.10" r="1.15" fill="#0e4a8e"/>
<circle cx="243.60" cy="372.00" r="1.15" fill="#0e4a8e"/>
<circle cx="243.60" cy="384.80" r="1.15" fill="#0e4a8e"/>
<circle cx="243.60" cy="387.80" r="1.15" fill="#0e4a8e"/>
<circle cx="243.60" cy="389.10" r="1.15" fill="#0e4a8e"/>
<circle cx="243.60" cy="390.70" r="1.15" fill="#0e4a8e"/>
<circle cx="243.60" cy="395.60" r="1.15" fill="#0e4a8e"/>
<circle cx="243.60" cy="396.60" r="1.15" fill="#0e4a8e"/>
<circle cx="243.60" cy="380.00" r="1.15" fill="#0e4a8e"/>
<circle cx="243.60" cy="392.00" r="1.15" fill="#0e4a8e"/>
<circle cx="257.50" cy="368.50" r="1.15" fill="#0e4a8e"/>
<circle cx="257.50" cy="393.70" r="1.15" fill="#0e4a8e"/>
<circle cx="257.50" cy="395.60" r="1.15" fill="#0e4a8e"/>
<circle cx="257.50" cy="397.60" r="1.15" fill="#0e4a8e"/>
<circle cx="257.50" cy="400.60" r="1.15" fill="#0e4a8e"/>
<circle cx="257.50" cy="405.50" r="1.15" fill="#0e4a8e"/>
<circle cx="257.50" cy="407.40" r="1.15" fill="#0e4a8e"/>
<circle cx="271.70" cy="311.00" r="1.15" fill="#0e4a8e"/>
<circle cx="271.70" cy="330.00" r="1.15" fill="#0e4a8e"/>
<circle cx="271.70" cy="347.40" r="1.15" fill="#0e4a8e"/>
<circle cx="271.70" cy="383.80" r="1.15" fill="#0e4a8e"/>
<circle cx="271.70" cy="392.30" r="1.15" fill="#0e4a8e"/>
<circle cx="271.70" cy="396.60" r="1.15" fill="#0e4a8e"/>
<circle cx="271.70" cy="404.10" r="1.15" fill="#0e4a8e"/>
<circle cx="285.60" cy="384.20" r="1.15" fill="#0e4a8e"/>
<circle cx="285.60" cy="407.40" r="1.15" fill="#0e4a8e"/>
<circle cx="298.80" cy="325.40" r="1.15" fill="#0e4a8e"/>
<circle cx="300.80" cy="325.00" r="1.15" fill="#0e4a8e"/>
<circle cx="299.80" cy="363.10" r="1.15" fill="#0e4a8e"/>
<circle cx="299.80" cy="376.00" r="1.15" fill="#0e4a8e"/>
<circle cx="299.80" cy="410.40" r="1.15" fill="#0e4a8e"/>
<circle cx="313.80" cy="396.50" r="1.15" fill="#0e4a8e"/>
<circle cx="313.80" cy="410.00" r="1.15" fill="#0e4a8e"/>
<circle cx="326.50" cy="410.00" r="1.15" fill="#0e4a8e"/>
<circle cx="329.50" cy="409.50" r="1.15" fill="#0e4a8e"/>
<circle cx="341.90" cy="404.20" r="1.15" fill="#0e4a8e"/>
<circle cx="341.90" cy="408.00" r="1.15" fill="#0e4a8e"/>
<circle cx="339.90" cy="409.50" r="1.15" fill="#0e4a8e"/>
<circle cx="343.90" cy="409.50" r="1.15" fill="#0e4a8e"/>
<circle cx="356.00" cy="404.60" r="1.15" fill="#0e4a8e"/>
<circle cx="356.00" cy="407.50" r="1.15" fill="#0e4a8e"/>
<circle cx="354.00" cy="409.50" r="1.15" fill="#0e4a8e"/>
<circle cx="358.00" cy="409.50" r="1.15" fill="#0e4a8e"/>
<circle cx="369.80" cy="410.00" r="1.15" fill="#0e4a8e"/>
<line x1="234.50" y1="290.90" x2="234.50" y2="411.20" stroke="#222" stroke-width="1.2" />
<line x1="233.90" y1="410.60" x2="380.00" y2="410.60" stroke="#222" stroke-width="1.3" />
<line x1="231.20" y1="410.60" x2="234.50" y2="410.60" stroke="#222" stroke-width="1" />
<text x="228.40" y="413.50" font-size="8.1" text-anchor="end" fill="#222" textLength="4.40" lengthAdjust="spacingAndGlyphs" >0</text>
<line x1="231.20" y1="381.05" x2="234.50" y2="381.05" stroke="#222" stroke-width="1" />
<text x="228.40" y="383.95" font-size="8.1" text-anchor="end" fill="#222" textLength="13.20" lengthAdjust="spacingAndGlyphs" >100</text>
<line x1="231.20" y1="351.50" x2="234.50" y2="351.50" stroke="#222" stroke-width="1" />
<text x="228.40" y="354.40" font-size="8.1" text-anchor="end" fill="#222" textLength="13.20" lengthAdjust="spacingAndGlyphs" >200</text>
<line x1="231.20" y1="321.95" x2="234.50" y2="321.95" stroke="#222" stroke-width="1" />
<text x="228.40" y="324.85" font-size="8.1" text-anchor="end" fill="#222" textLength="13.20" lengthAdjust="spacingAndGlyphs" >300</text>
<line x1="231.20" y1="292.40" x2="234.50" y2="292.40" stroke="#222" stroke-width="1" />
<text x="228.40" y="295.30" font-size="8.1" text-anchor="end" fill="#222" textLength="13.20" lengthAdjust="spacingAndGlyphs" >400</text>
<line x1="243.60" y1="410.60" x2="243.60" y2="413.20" stroke="#222" stroke-width="1" />
<line x1="257.50" y1="410.60" x2="257.50" y2="413.20" stroke="#222" stroke-width="1" />
<line x1="271.70" y1="410.60" x2="271.70" y2="413.20" stroke="#222" stroke-width="1" />
<line x1="285.60" y1="410.60" x2="285.60" y2="413.20" stroke="#222" stroke-width="1" />
<line x1="299.80" y1="410.60" x2="299.80" y2="413.20" stroke="#222" stroke-width="1" />
<line x1="313.80" y1="410.60" x2="313.80" y2="413.20" stroke="#222" stroke-width="1" />
<line x1="328.00" y1="410.60" x2="328.00" y2="413.20" stroke="#222" stroke-width="1" />
<line x1="341.90" y1="410.60" x2="341.90" y2="413.20" stroke="#222" stroke-width="1" />
<line x1="356.00" y1="410.60" x2="356.00" y2="413.20" stroke="#222" stroke-width="1" />
<line x1="369.80" y1="410.60" x2="369.80" y2="413.20" stroke="#222" stroke-width="1" />
<line x1="243.10" y1="213.10" x2="370.30" y2="213.10" stroke="#222" stroke-width="1" />
<line x1="369.80" y1="213.10" x2="369.80" y2="226.50" stroke="#222" stroke-width="1" />
<circle cx="305.12" cy="209.50" r="1.15" fill="#222"/>
<circle cx="308.27" cy="209.50" r="1.15" fill="#222"/>
<line x1="243.10" y1="227.30" x2="356.70" y2="227.30" stroke="#222" stroke-width="1" />
<line x1="356.20" y1="227.30" x2="356.20" y2="239.80" stroke="#222" stroke-width="1" />
<circle cx="295.17" cy="223.70" r="1.15" fill="#222"/>
<circle cx="298.32" cy="223.70" r="1.15" fill="#222"/>
<circle cx="301.47" cy="223.70" r="1.15" fill="#222"/>
<circle cx="304.62" cy="223.70" r="1.15" fill="#222"/>
<line x1="243.10" y1="240.40" x2="342.40" y2="240.40" stroke="#222" stroke-width="1" />
<line x1="341.90" y1="240.40" x2="341.90" y2="252.90" stroke="#222" stroke-width="1" />
<circle cx="289.60" cy="236.80" r="1.15" fill="#222"/>
<circle cx="292.75" cy="236.80" r="1.15" fill="#222"/>
<circle cx="295.90" cy="236.80" r="1.15" fill="#222"/>
<line x1="243.10" y1="253.50" x2="328.40" y2="253.50" stroke="#222" stroke-width="1" />
<line x1="327.90" y1="253.50" x2="327.90" y2="266.00" stroke="#222" stroke-width="1" />
<circle cx="281.02" cy="249.90" r="1.15" fill="#222"/>
<circle cx="284.17" cy="249.90" r="1.15" fill="#222"/>
<circle cx="287.32" cy="249.90" r="1.15" fill="#222"/>
<circle cx="290.47" cy="249.90" r="1.15" fill="#222"/>
<line x1="243.10" y1="266.30" x2="314.00" y2="266.30" stroke="#222" stroke-width="1" />
<line x1="313.50" y1="266.30" x2="313.50" y2="279.00" stroke="#222" stroke-width="1" />
<circle cx="276.98" cy="262.70" r="1.15" fill="#222"/>
<circle cx="280.12" cy="262.70" r="1.15" fill="#222"/>
<line x1="243.10" y1="278.80" x2="300.30" y2="278.80" stroke="#222" stroke-width="1" />
<line x1="299.80" y1="278.80" x2="299.80" y2="292.30" stroke="#222" stroke-width="1" />
<text x="271.70" y="276.20" font-size="7" text-anchor="middle" fill="#222" textLength="7.30" lengthAdjust="spacingAndGlyphs" >ns</text>
<line x1="243.10" y1="291.50" x2="286.00" y2="291.50" stroke="#222" stroke-width="1" />
<line x1="285.50" y1="291.50" x2="285.50" y2="305.00" stroke="#222" stroke-width="1" />
<circle cx="262.98" cy="287.90" r="1.15" fill="#222"/>
<circle cx="266.12" cy="287.90" r="1.15" fill="#222"/>
<line x1="243.10" y1="304.50" x2="272.10" y2="304.50" stroke="#222" stroke-width="1" />
<line x1="271.60" y1="304.50" x2="271.60" y2="307.30" stroke="#222" stroke-width="1" />
<text x="257.60" y="301.90" font-size="7" text-anchor="middle" fill="#222" textLength="7.30" lengthAdjust="spacingAndGlyphs" >ns</text>
<line x1="243.10" y1="317.60" x2="258.90" y2="317.60" stroke="#222" stroke-width="1" />
<line x1="258.40" y1="317.60" x2="258.40" y2="322.40" stroke="#222" stroke-width="1" />
<circle cx="246.28" cy="314.00" r="1.15" fill="#222"/>
<circle cx="249.43" cy="314.00" r="1.15" fill="#222"/>
<circle cx="252.58" cy="314.00" r="1.15" fill="#222"/>
<circle cx="255.72" cy="314.00" r="1.15" fill="#222"/>
<line x1="243.60" y1="212.60" x2="243.60" y2="322.40" stroke="#222" stroke-width="1" />
<text x="244.80" y="417.00" font-size="8" text-anchor="end" fill="#222" transform="rotate(-45 244.80 417.00)" textLength="37.00" lengthAdjust="spacingAndGlyphs">WT sorted</text>
<text x="258.70" y="417.00" font-size="8" text-anchor="end" fill="#222" transform="rotate(-45 258.70 417.00)" textLength="79.00" lengthAdjust="spacingAndGlyphs">No known binding site</text>
<text x="272.90" y="417.00" font-size="8" text-anchor="end" fill="#222" transform="rotate(-45 272.90 417.00)" textLength="40.00" lengthAdjust="spacingAndGlyphs">Weak KLF1</text>
<text x="286.80" y="417.00" font-size="8" text-anchor="end" fill="#222" transform="rotate(-45 286.80 417.00)" textLength="61.00" lengthAdjust="spacingAndGlyphs">Strong KLF1 site</text>
<text x="301.00" y="417.00" font-size="8" text-anchor="end" fill="#222" transform="rotate(-45 301.00 417.00)" textLength="100.00" lengthAdjust="spacingAndGlyphs">Weak and strong KLF1 sites</text>
<text x="315.00" y="417.00" font-size="8" text-anchor="end" fill="#222" transform="rotate(-45 315.00 417.00)" textLength="31.00" lengthAdjust="spacingAndGlyphs">NFY site</text>
<text x="329.20" y="417.00" font-size="8" text-anchor="end" fill="#222" transform="rotate(-45 329.20 417.00)" textLength="97.00" lengthAdjust="spacingAndGlyphs">NFY and strong KLF1 sites</text>
<text x="343.10" y="417.00" font-size="8" text-anchor="end" fill="#222" transform="rotate(-45 343.10 417.00)" textLength="141.00" lengthAdjust="spacingAndGlyphs">Weak KLF1, strong KLF1 and NFY sites</text>
<text x="357.20" y="417.00" font-size="8" text-anchor="end" fill="#222" transform="rotate(-45 357.20 417.00)" textLength="36.00" lengthAdjust="spacingAndGlyphs">TATA box</text>
<text x="371.00" y="417.00" font-size="8" text-anchor="end" fill="#222" transform="rotate(-45 371.00 417.00)" textLength="89.00" lengthAdjust="spacingAndGlyphs">Whole promoter deletion</text>
<text x="207.50" y="350.30" font-size="8.8" text-anchor="middle" fill="#222" transform="rotate(-90 207.50 350.30)" textLength="77.10" lengthAdjust="spacingAndGlyphs"><tspan font-style="italic">HBB</tspan> normalised to <tspan font-style="italic">18S</tspan></text>
<line x1="403.10" y1="219.60" x2="403.10" y2="304.90" stroke="#222" stroke-width="1.2" />
<line x1="402.50" y1="304.30" x2="507.00" y2="304.30" stroke="#222" stroke-width="1.3" />
<line x1="400.00" y1="304.30" x2="403.10" y2="304.30" stroke="#222" stroke-width="1" />
<text x="397.70" y="307.45" font-size="8.8" text-anchor="end" fill="#222" textLength="4.50" lengthAdjust="spacingAndGlyphs" >0</text>
<line x1="400.00" y1="283.85" x2="403.10" y2="283.85" stroke="#222" stroke-width="1" />
<text x="397.70" y="287.00" font-size="8.8" text-anchor="end" fill="#222" textLength="4.50" lengthAdjust="spacingAndGlyphs" >5</text>
<line x1="400.00" y1="263.40" x2="403.10" y2="263.40" stroke="#222" stroke-width="1" />
<text x="397.70" y="266.55" font-size="8.8" text-anchor="end" fill="#222" textLength="9.00" lengthAdjust="spacingAndGlyphs" >10</text>
<line x1="400.00" y1="242.95" x2="403.10" y2="242.95" stroke="#222" stroke-width="1" />
<text x="397.70" y="246.10" font-size="8.8" text-anchor="end" fill="#222" textLength="9.00" lengthAdjust="spacingAndGlyphs" >15</text>
<line x1="400.00" y1="222.50" x2="403.10" y2="222.50" stroke="#222" stroke-width="1" />
<text x="397.70" y="225.65" font-size="8.8" text-anchor="end" fill="#222" textLength="9.00" lengthAdjust="spacingAndGlyphs" >20</text>
<line x1="403.30" y1="304.30" x2="403.30" y2="306.90" stroke="#222" stroke-width="1" />
<line x1="412.02" y1="304.30" x2="412.02" y2="305.90" stroke="#222" stroke-width="1" />
<line x1="420.74" y1="304.30" x2="420.74" y2="305.90" stroke="#222" stroke-width="1" />
<line x1="429.46" y1="304.30" x2="429.46" y2="305.90" stroke="#222" stroke-width="1" />
<line x1="438.18" y1="304.30" x2="438.18" y2="305.90" stroke="#222" stroke-width="1" />
<line x1="446.90" y1="304.30" x2="446.90" y2="306.90" stroke="#222" stroke-width="1" />
<line x1="455.62" y1="304.30" x2="455.62" y2="305.90" stroke="#222" stroke-width="1" />
<line x1="464.34" y1="304.30" x2="464.34" y2="305.90" stroke="#222" stroke-width="1" />
<line x1="473.06" y1="304.30" x2="473.06" y2="305.90" stroke="#222" stroke-width="1" />
<line x1="481.78" y1="304.30" x2="481.78" y2="305.90" stroke="#222" stroke-width="1" />
<line x1="490.50" y1="304.30" x2="490.50" y2="306.90" stroke="#222" stroke-width="1" />
<line x1="499.22" y1="304.30" x2="499.22" y2="305.90" stroke="#222" stroke-width="1" />
<text x="403.60" y="316.60" font-size="8.3" text-anchor="middle" fill="#222" textLength="4.20" lengthAdjust="spacingAndGlyphs" >5</text>
<text x="447.20" y="316.60" font-size="8.3" text-anchor="middle" fill="#222" textLength="8.40" lengthAdjust="spacingAndGlyphs" >10</text>
<text x="490.80" y="316.60" font-size="8.3" text-anchor="middle" fill="#222" textLength="8.40" lengthAdjust="spacingAndGlyphs" >15</text>
<text x="455.30" y="328.30" font-size="8.9" text-anchor="middle" fill="#222" textLength="50.00" lengthAdjust="spacingAndGlyphs" >Time (minutes)</text>
<polyline points="414.98,304.10 415.19,304.10 415.40,304.10 415.61,304.10 415.82,304.10 416.03,304.10 416.24,304.10 416.45,304.10 416.66,304.10 416.87,304.10 417.08,304.10 417.29,304.10 417.50,304.10 417.71,304.10 417.92,304.10 418.13,304.10 418.34,304.09 418.55,304.09 418.76,304.09 418.97,304.09 419.17,304.09 419.38,304.09 419.59,304.08 419.80,304.07 420.01,304.06 420.22,304.04 420.43,304.01 420.64,303.97 420.85,303.92 421.06,303.85 421.27,303.77 421.48,303.68 421.69,303.56 421.90,303.44 422.11,303.30 422.32,303.16 422.53,303.03 422.74,302.90 422.95,302.80 423.16,302.72 423.36,302.68 423.57,302.66 423.78,302.69 423.99,302.75 424.20,302.84 424.41,302.95 424.62,303.08 424.83,303.22 425.04,303.36 425.25,303.49 425.46,303.61 425.67,303.72 425.88,303.81 426.09,303.88 426.30,303.94 426.51,303.99 426.72,304.02 426.93,304.05 427.14,304.06 427.35,304.08 427.55,304.08 427.76,304.09 427.97,304.09 428.18,304.09 428.39,304.09 428.60,304.09 428.81,304.09 429.02,304.09 429.23,304.09 429.44,304.09 429.65,304.09 429.86,304.09 430.07,304.09 430.28,304.09 430.49,304.09 430.70,304.09 430.91,304.09 431.12,304.09 431.33,304.09 431.54,304.09 431.74,304.09 431.95,304.09 432.16,304.09 432.37,304.09 432.58,304.09 432.79,304.09 433.00,304.09 433.21,304.08 433.42,304.08 433.63,304.07 433.84,304.06 434.05,304.04 434.26,304.02 434.47,303.98 434.68,303.94 434.89,303.88 435.10,303.81 435.31,303.72 435.52,303.61 435.73,303.49 435.93,303.36 436.14,303.22 436.35,303.08 436.56,302.94 436.77,302.82 436.98,302.72 437.19,302.65 437.40,302.61 437.61,302.61 437.82,302.64 438.03,302.71 438.24,302.79 438.45,302.89 438.66,303.00 438.87,303.11 439.08,303.21 439.29,303.28 439.50,303.33 439.71,303.34 439.92,303.32 440.12,303.26 440.33,303.17 440.54,303.04 440.75,302.89 440.96,302.71 441.17,302.51 441.38,302.31 441.59,302.11 441.80,301.92 442.01,301.75 442.22,301.62 442.43,301.52 442.64,301.47 442.85,301.47 443.06,301.51 443.27,301.59 443.48,301.72 443.69,301.87 443.90,302.04 444.11,302.23 444.31,302.42 444.52,302.61 444.73,302.79 444.94,302.95 445.15,303.09 445.36,303.21 445.57,303.31 445.78,303.39 445.99,303.46 446.20,303.51 446.41,303.54 446.62,303.57 446.83,303.58 447.04,303.59 447.25,303.60 447.46,303.60 447.67,303.60 447.88,303.60 448.09,303.60 448.29,303.60 448.50,303.60 448.71,303.60 448.92,303.60 449.13,303.61 449.34,303.61 449.55,303.61 449.76,303.61 449.97,303.62 450.18,303.62 450.39,303.63 450.60,303.63 450.81,303.64 451.02,303.65 451.23,303.65 451.44,303.66 451.65,303.67 451.86,303.68 452.07,303.68 452.28,303.69 452.48,303.70 452.69,303.70 452.90,303.71 453.11,303.71 453.32,303.71 453.53,303.70 453.74,303.69 453.95,303.67 454.16,303.64 454.37,303.61 454.58,303.56 454.79,303.49 455.00,303.42 455.21,303.32 455.42,303.21 455.63,303.07 455.84,302.92 456.05,302.75 456.26,302.56 456.47,302.36 456.67,302.15 456.88,301.94 457.09,301.74 457.30,301.54 457.51,301.35 457.72,301.19 457.93,301.06 458.14,300.96 458.35,300.90 458.56,300.87 458.77,300.88 458.98,300.92 459.19,301.00 459.40,301.10 459.61,301.21 459.82,301.34 460.03,301.46 460.24,301.58 460.45,301.69 460.66,301.78 460.86,301.85 461.07,301.89 461.28,301.91 461.49,301.91 461.70,301.89 461.91,301.86 462.12,301.83 462.33,301.79 462.54,301.76 462.75,301.75 462.96,301.76 463.17,301.78 463.38,301.83 463.59,301.91 463.80,302.00 464.01,302.11 464.22,302.23 464.43,302.37 464.64,302.50 464.85,302.64 465.05,302.77 465.26,302.90 465.47,303.01 465.68,303.11 465.89,303.21 466.10,303.29 466.31,303.36 466.52,303.41 466.73,303.46 466.94,303.50 467.15,303.54 467.36,303.57 467.57,303.59 467.78,303.61 467.99,303.62 468.20,303.63 468.41,303.62 468.62,303.60 468.83,303.56 469.04,303.49 469.24,303.39 469.45,303.23 469.66,303.01 469.87,302.70 470.08,302.27 470.29,301.70 470.50,300.96 470.71,299.99 470.92,298.78 471.13,297.27 471.34,295.43 471.55,293.24 471.76,290.66 471.97,287.68 472.18,284.32 472.39,280.60 472.60,276.57 472.81,272.31 473.02,267.90 473.23,263.46 473.43,259.12 473.64,255.03 473.85,251.32 474.06,248.13 474.27,245.59 474.48,243.77 474.69,242.73 474.90,242.55 475.11,243.65 475.32,245.93 475.53,249.08 475.74,252.69 475.95,256.34 476.16,259.66 476.37,262.42 476.58,264.58 476.79,266.28 477.00,267.80 477.21,269.50 477.42,271.68 477.62,274.49 477.83,277.93 478.04,281.78 478.25,285.75 478.46,289.50 478.67,292.78 478.88,295.43 479.09,297.40 479.30,298.76 479.51,299.62 479.72,300.11 479.93,300.35 480.14,300.44 480.35,300.45 480.56,300.41 480.77,300.36 480.98,300.31 481.19,300.26 481.40,300.23 481.61,300.21 481.81,300.20 482.02,300.21 482.23,300.22 482.44,300.25 482.65,300.28 482.86,300.32 483.07,300.37 483.28,300.42 483.49,300.48 483.70,300.54 483.91,300.60 484.12,300.66 484.33,300.73 484.54,300.79 484.75,300.85 484.96,300.92 485.17,300.98 485.38,301.04 485.59,301.11 485.80,301.17 486.00,301.24 486.21,301.31 486.42,301.38 486.63,301.45 486.84,301.53 487.05,301.61 487.26,301.70 487.47,301.79 487.68,301.89 487.89,301.99 488.10,302.09 488.31,302.20 488.52,302.30 488.73,302.41 488.94,302.53 489.15,302.64 489.36,302.75 489.57,302.86 489.78,302.96 489.99,303.06 490.19,303.16 490.40,303.26 490.61,303.35 490.82,303.43 491.03,303.51 491.24,303.58 491.45,303.64 491.66,303.70 491.87,303.76 492.08,303.81 492.29,303.85 492.50,303.89 492.71,303.92 492.92,303.95 493.13,303.97 493.34,303.99 493.55,304.01 493.76,304.03 493.97,304.04 494.18,304.05 494.38,304.06 494.59,304.07 494.80,304.07 495.01,304.08 495.22,304.08 495.43,304.09 495.64,304.09 495.85,304.09 496.06,304.09 496.27,304.09 496.48,304.09 496.69,304.09 496.90,304.09 497.11,304.09 497.32,304.09 497.53,304.09 497.74,304.10 497.95,304.10 498.16,304.10 498.37,304.10 498.57,304.10 498.78,304.10" fill="none" stroke="#c8102e" stroke-width="1.5" stroke-linejoin="round"/>
<text x="409.80" y="223.60" font-size="7.6" text-anchor="start" fill="#222" textLength="11.20" lengthAdjust="spacingAndGlyphs" >WT</text>
<line x1="403.10" y1="352.30" x2="403.10" y2="436.80" stroke="#222" stroke-width="1.2" />
<line x1="402.50" y1="436.20" x2="507.00" y2="436.20" stroke="#222" stroke-width="1.3" />
<line x1="400.00" y1="436.20" x2="403.10" y2="436.20" stroke="#222" stroke-width="1" />
<text x="397.70" y="439.35" font-size="8.8" text-anchor="end" fill="#222" textLength="4.50" lengthAdjust="spacingAndGlyphs" >0</text>
<line x1="400.00" y1="415.74" x2="403.10" y2="415.74" stroke="#222" stroke-width="1" />
<text x="397.70" y="418.89" font-size="8.8" text-anchor="end" fill="#222" textLength="4.50" lengthAdjust="spacingAndGlyphs" >2</text>
<line x1="400.00" y1="395.28" x2="403.10" y2="395.28" stroke="#222" stroke-width="1" />
<text x="397.70" y="398.43" font-size="8.8" text-anchor="end" fill="#222" textLength="4.50" lengthAdjust="spacingAndGlyphs" >4</text>
<line x1="400.00" y1="374.82" x2="403.10" y2="374.82" stroke="#222" stroke-width="1" />
<text x="397.70" y="377.97" font-size="8.8" text-anchor="end" fill="#222" textLength="4.50" lengthAdjust="spacingAndGlyphs" >6</text>
<line x1="400.00" y1="354.36" x2="403.10" y2="354.36" stroke="#222" stroke-width="1" />
<text x="397.70" y="357.51" font-size="8.8" text-anchor="end" fill="#222" textLength="4.50" lengthAdjust="spacingAndGlyphs" >8</text>
<line x1="403.30" y1="436.20" x2="403.30" y2="438.80" stroke="#222" stroke-width="1" />
<line x1="412.02" y1="436.20" x2="412.02" y2="437.80" stroke="#222" stroke-width="1" />
<line x1="420.74" y1="436.20" x2="420.74" y2="437.80" stroke="#222" stroke-width="1" />
<line x1="429.46" y1="436.20" x2="429.46" y2="437.80" stroke="#222" stroke-width="1" />
<line x1="438.18" y1="436.20" x2="438.18" y2="437.80" stroke="#222" stroke-width="1" />
<line x1="446.90" y1="436.20" x2="446.90" y2="438.80" stroke="#222" stroke-width="1" />
<line x1="455.62" y1="436.20" x2="455.62" y2="437.80" stroke="#222" stroke-width="1" />
<line x1="464.34" y1="436.20" x2="464.34" y2="437.80" stroke="#222" stroke-width="1" />
<line x1="473.06" y1="436.20" x2="473.06" y2="437.80" stroke="#222" stroke-width="1" />
<line x1="481.78" y1="436.20" x2="481.78" y2="437.80" stroke="#222" stroke-width="1" />
<line x1="490.50" y1="436.20" x2="490.50" y2="438.80" stroke="#222" stroke-width="1" />
<line x1="499.22" y1="436.20" x2="499.22" y2="437.80" stroke="#222" stroke-width="1" />
<text x="403.60" y="448.50" font-size="8.3" text-anchor="middle" fill="#222" textLength="4.20" lengthAdjust="spacingAndGlyphs" >5</text>
<text x="447.20" y="448.50" font-size="8.3" text-anchor="middle" fill="#222" textLength="8.40" lengthAdjust="spacingAndGlyphs" >10</text>
<text x="490.80" y="448.50" font-size="8.3" text-anchor="middle" fill="#222" textLength="8.40" lengthAdjust="spacingAndGlyphs" >15</text>
<text x="455.30" y="460.20" font-size="8.9" text-anchor="middle" fill="#222" textLength="50.00" lengthAdjust="spacingAndGlyphs" >Time (minutes)</text>
<polyline points="403.30,435.50 403.54,435.46 403.78,435.42 404.02,435.37 404.26,435.30 404.50,435.22 404.74,435.13 404.98,435.03 405.22,434.91 405.46,434.79 405.70,434.66 405.94,434.53 406.18,434.40 406.42,434.28 406.66,434.18 406.90,434.09 407.14,434.03 407.38,434.00 407.62,433.99 407.86,434.01 408.10,434.05 408.34,434.12 408.58,434.21 408.82,434.31 409.06,434.42 409.30,434.53 409.53,434.64 409.77,434.74 410.01,434.84 410.25,434.92 410.49,434.99 410.73,435.04 410.97,435.08 411.21,435.11 411.45,435.13 411.69,435.14 411.93,435.15 412.17,435.15 412.41,435.14 412.65,435.13 412.89,435.12 413.13,435.11 413.37,435.10 413.61,435.09 413.85,435.09 414.09,435.08 414.33,435.08 414.57,435.07 414.81,435.08 415.05,435.08 415.29,435.08 415.53,435.09 415.77,435.10 416.01,435.11 416.25,435.13 416.49,435.14 416.73,435.16 416.97,435.18 417.21,435.20 417.45,435.22 417.69,435.24 417.93,435.26 418.17,435.28 418.41,435.30 418.65,435.32 418.89,435.34 419.13,435.36 419.37,435.37 419.61,435.37 419.85,435.37 420.09,435.34 420.33,435.29 420.57,435.19 420.81,435.02 421.05,434.74 421.29,434.33 421.52,433.72 421.76,432.86 422.00,431.70 422.24,430.18 422.48,428.28 422.72,425.98 422.96,423.32 423.20,420.37 423.44,417.26 423.68,414.15 423.92,411.24 424.16,408.74 424.40,406.84 424.64,405.70 424.88,405.42 425.12,406.02 425.36,407.45 425.60,409.60 425.84,412.27 426.08,415.29 426.32,418.42 426.56,421.50 426.80,424.36 427.04,426.90 427.28,429.06 427.52,430.83 427.76,432.21 428.00,433.27 428.24,434.04 428.48,434.58 428.72,434.96 428.96,435.20 429.20,435.36 429.44,435.45 429.68,435.51 429.92,435.55 430.16,435.57 430.40,435.58 430.64,435.58 430.88,435.58 431.12,435.58 431.36,435.59 431.60,435.59 431.84,435.59 432.08,435.59 432.32,435.59 432.56,435.59 432.80,435.59 433.04,435.59 433.28,435.59 433.51,435.59 433.75,435.59 433.99,435.59 434.23,435.58 434.47,435.58 434.71,435.58 434.95,435.58 435.19,435.58 435.43,435.57 435.67,435.56 435.91,435.55 436.15,435.52 436.39,435.49 436.63,435.44 436.87,435.37 437.11,435.27 437.35,435.13 437.59,434.93 437.83,434.66 438.07,434.29 438.31,433.81 438.55,433.17 438.79,432.35 439.03,431.30 439.27,430.00 439.51,428.38 439.75,426.42 439.99,424.08 440.23,421.34 440.47,418.16 440.71,414.56 440.95,410.54 441.19,406.14 441.43,401.42 441.67,396.47 441.91,391.38 442.15,386.27 442.39,381.30 442.63,376.61 442.87,372.34 443.11,368.65 443.35,365.67 443.59,363.50 443.83,362.24 444.07,361.92 444.31,362.69 444.55,364.56 444.79,367.44 445.03,371.21 445.26,375.68 445.50,380.69 445.74,386.01 445.98,391.47 446.22,396.86 446.46,402.04 446.70,406.88 446.94,411.27 447.18,415.17 447.42,418.54 447.66,421.38 447.90,423.73 448.14,425.62 448.38,427.12 448.62,428.29 448.86,429.19 449.10,429.89 449.34,430.44 449.58,430.90 449.82,431.28 450.06,431.63 450.30,431.95 450.54,432.23 450.78,432.48 451.02,432.67 451.26,432.75 451.50,432.70 451.74,432.47 451.98,432.03 452.22,431.35 452.46,430.46 452.70,429.39 452.94,428.23 453.18,427.10 453.42,426.12 453.66,425.43 453.90,425.13 454.14,425.26 454.38,425.81 454.62,426.71 454.86,427.85 455.10,429.11 455.34,430.37 455.58,431.51 455.82,432.47 456.06,433.23 456.30,433.77 456.54,434.13 456.78,434.34 457.02,434.42 457.25,434.41 457.49,434.34 457.73,434.23 457.97,434.09 458.21,433.93 458.45,433.76 458.69,433.57 458.93,433.38 459.17,433.19 459.41,433.00 459.65,432.80 459.89,432.61 460.13,432.42 460.37,432.25 460.61,432.08 460.85,431.93 461.09,431.80 461.33,431.68 461.57,431.58 461.81,431.51 462.05,431.45 462.29,431.42 462.53,431.41 462.77,431.42 463.01,431.45 463.25,431.50 463.49,431.57 463.73,431.65 463.97,431.74 464.21,431.85 464.45,431.96 464.69,432.07 464.93,432.19 465.17,432.31 465.41,432.43 465.65,432.54 465.89,432.65 466.13,432.75 466.37,432.85 466.61,432.94 466.85,433.02 467.09,433.10 467.33,433.18 467.57,433.25 467.81,433.32 468.05,433.39 468.29,433.46 468.53,433.53 468.77,433.60 469.01,433.67 469.25,433.75 469.48,433.82 469.72,433.89 469.96,433.95 470.20,433.99 470.44,434.01 470.68,433.99 470.92,433.93 471.16,433.80 471.40,433.58 471.64,433.26 471.88,432.80 472.12,432.19 472.36,431.40 472.60,430.42 472.84,429.23 473.08,427.83 473.32,426.23 473.56,424.47 473.80,422.58 474.04,420.63 474.28,418.67 474.52,416.80 474.76,415.09 475.00,413.63 475.24,412.50 475.48,411.74 475.72,411.40 475.96,411.48 476.20,411.97 476.44,412.82 476.68,413.97 476.92,415.33 477.16,416.82 477.40,418.35 477.64,419.84 477.88,421.23 478.12,422.49 478.36,423.60 478.60,424.57 478.84,425.42 479.08,426.18 479.32,426.88 479.56,427.54 479.80,428.18 480.04,428.79 480.28,429.37 480.52,429.90 480.76,430.36 481.00,430.75 481.24,431.05 481.47,431.27 481.71,431.43 481.95,431.54 482.19,431.62 482.43,431.68 482.67,431.74 482.91,431.81 483.15,431.88 483.39,431.92 483.63,431.91 483.87,431.82 484.11,431.58 484.35,431.18 484.59,430.59 484.83,429.81 485.07,428.89 485.31,427.90 485.55,426.94 485.79,426.14 486.03,425.62 486.27,425.46 486.51,425.70 486.75,426.33 486.99,427.29 487.23,428.46 487.47,429.73 487.71,430.98 487.95,432.12 488.19,433.09 488.43,433.87 488.67,434.45 488.91,434.87 489.15,435.16 489.39,435.34 489.63,435.45 489.87,435.51 490.11,435.55 490.35,435.57 490.59,435.58 490.83,435.58 491.07,435.58 491.31,435.59 491.55,435.59 491.79,435.59 492.03,435.59 492.27,435.59 492.51,435.59 492.75,435.59 492.99,435.59 493.23,435.59 493.46,435.59 493.70,435.59 493.94,435.59 494.18,435.59 494.42,435.59 494.66,435.59 494.90,435.59 495.14,435.59 495.38,435.59 495.62,435.59 495.86,435.59 496.10,435.59 496.34,435.59 496.58,435.59 496.82,435.59 497.06,435.59 497.30,435.59 497.54,435.59 497.78,435.59 498.02,435.59 498.26,435.59 498.50,435.59 498.74,435.59 498.98,435.59 499.22,435.59" fill="none" stroke="#1c5796" stroke-width="1.5" stroke-linejoin="round"/>
<text x="407.00" y="356.10" font-size="8.2" text-anchor="start" fill="#222" textLength="32.00" lengthAdjust="spacingAndGlyphs" >TATA box</text>
<text x="407.00" y="365.30" font-size="8.2" text-anchor="start" fill="#222" textLength="28.50" lengthAdjust="spacingAndGlyphs" >deletion</text>
<text x="449.50" y="237.30" font-size="9.2" text-anchor="start" fill="#222" textLength="14.00" lengthAdjust="spacingAndGlyphs" transform="rotate(-44 449.50 237.30)" >HbA</text>
<text x="455.20" y="243.20" font-size="9.2" text-anchor="start" fill="#222" textLength="38.00" lengthAdjust="spacingAndGlyphs" transform="rotate(-44 455.20 243.20)" >96% ± 1.9%</text>
<line x1="469.20" y1="232.70" x2="473.19" y2="236.46" stroke="#111" stroke-width="1" />
<polygon points="471.32,237.72 474.33,234.51 476.10,239.20" fill="#111"/>
<text x="436.80" y="282.80" font-size="9.2" text-anchor="start" fill="#222" textLength="14.00" lengthAdjust="spacingAndGlyphs" transform="rotate(-44 436.80 282.80)" >HbF</text>
<text x="442.30" y="288.50" font-size="9.2" text-anchor="start" fill="#222" textLength="40.50" lengthAdjust="spacingAndGlyphs" transform="rotate(-44 442.30 288.50)" >2.3% ± 1.3%</text>
<line x1="442.10" y1="289.80" x2="442.10" y2="295.50" stroke="#111" stroke-width="1" />
<polygon points="439.90,295.00 444.30,295.00 442.10,299.60" fill="#111"/>
<text x="456.40" y="371.50" font-size="9.2" text-anchor="start" fill="#222" textLength="12.50" lengthAdjust="spacingAndGlyphs" transform="rotate(-62 456.40 371.50)" >HbF</text>
<text x="463.90" y="374.90" font-size="9.2" text-anchor="start" fill="#222" textLength="37.00" lengthAdjust="spacingAndGlyphs" transform="rotate(-62 463.90 374.90)" >71% ± 2.3%</text>
<line x1="454.80" y1="356.00" x2="448.97" y2="358.06" stroke="#111" stroke-width="1" />
<polygon points="448.71,355.82 450.18,359.97 445.20,359.40" fill="#111"/>
<text x="453.20" y="407.70" font-size="9.2" text-anchor="start" fill="#222" textLength="19.00" lengthAdjust="spacingAndGlyphs" transform="rotate(-62 453.20 407.70)" >Free α</text>
<text x="462.40" y="411.50" font-size="9.2" text-anchor="start" fill="#222" textLength="37.00" lengthAdjust="spacingAndGlyphs" transform="rotate(-62 462.40 411.50)" >5.7% ± 2.1%</text>
<line x1="454.00" y1="411.70" x2="454.00" y2="417.70" stroke="#111" stroke-width="1" />
<polygon points="451.80,417.20 456.20,417.20 454.00,421.80" fill="#111"/>
<text x="481.40" y="397.50" font-size="9.2" text-anchor="start" fill="#222" textLength="12.50" lengthAdjust="spacingAndGlyphs" transform="rotate(-62 481.40 397.50)" >HbA</text>
<text x="489.40" y="399.50" font-size="9.2" text-anchor="start" fill="#222" textLength="35.50" lengthAdjust="spacingAndGlyphs" transform="rotate(-62 489.40 399.50)" >16% ± 0.4%</text>
<line x1="476.40" y1="399.00" x2="476.40" y2="404.90" stroke="#111" stroke-width="1" />
<polygon points="474.20,404.40 478.60,404.40 476.40,409.00" fill="#111"/>
<text x="491.40" y="414.90" font-size="9.2" text-anchor="start" fill="#222" textLength="16.50" lengthAdjust="spacingAndGlyphs" transform="rotate(-62 491.40 414.90)" >HbA2</text>
<text x="498.90" y="418.30" font-size="9.2" text-anchor="start" fill="#222" textLength="38.50" lengthAdjust="spacingAndGlyphs" transform="rotate(-62 498.90 418.30)" >7.0% ± 2.6%</text>
<line x1="486.70" y1="416.40" x2="486.70" y2="419.30" stroke="#111" stroke-width="1" />
<polygon points="484.50,418.80 488.90,418.80 486.70,422.80" fill="#111"/>
<rect x="0.5" y="0.5" width="519" height="527" fill="none" stroke="#000" stroke-width="1.2"/>
</svg>
</body></html>
